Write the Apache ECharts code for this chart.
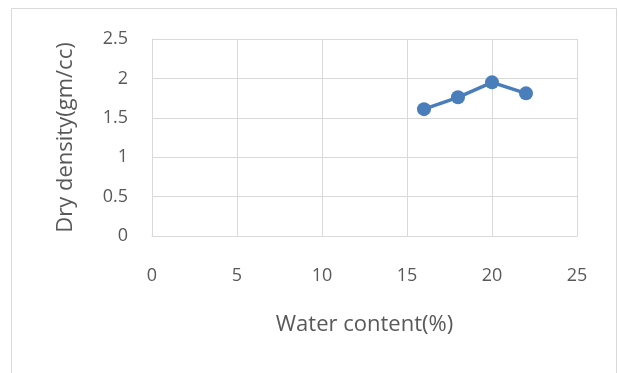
<!DOCTYPE html>
<html>
<head>
<meta charset="utf-8">
<script src="https://cdn.jsdelivr.net/npm/echarts@6/dist/echarts.min.js"></script>
<style>
html, body { margin: 0; padding: 0; background: #fff; }
#chart { width: 618px; height: 373px; }
</style>
</head>
<body>
<div id="chart"></div>
<script>
// Compaction test: dry density against water content
const waterContent = [16, 18, 20, 22];
const dryDensity = [1.61, 1.76, 1.95, 1.81];
const xTicks = [0, 5, 10, 15, 20, 25];
const yTicks = [0, 0.5, 1, 1.5, 2, 2.5];

const chart = echarts.init(document.getElementById('chart'));
const font = '"Open Sans", Lato, sans-serif';

chart.setOption({
  animation: false,
  backgroundColor: '#ffffff',
  graphic: [{
    type: 'rect',
    shape: { x: 11.5, y: 8.5, width: 605, height: 370 },
    style: { fill: 'none', stroke: '#d9d9d9', lineWidth: 1 }
  }],
  grid: { left: 152, right: 41, top: 39, bottom: 137 },
  xAxis: {
    type: 'value',
    min: xTicks[0],
    max: xTicks[xTicks.length - 1],
    interval: 5,
    name: 'Water content(%)',
    nameLocation: 'middle',
    nameGap: 78,
    nameTextStyle: { color: '#595959', fontSize: 22, fontFamily: font },
    axisLine: { show: true, lineStyle: { color: '#d9d9d9', width: 1 } },
    axisTick: { show: false },
    axisLabel: { color: '#595959', fontSize: 18, fontFamily: font, margin: 31 },
    splitLine: { show: true, lineStyle: { color: '#d9d9d9', width: 1 } }
  },
  yAxis: {
    type: 'value',
    min: yTicks[0],
    max: yTicks[yTicks.length - 1],
    interval: 0.5,
    name: 'Dry density(gm/cc)',
    nameLocation: 'middle',
    nameGap: 75,
    nameTextStyle: { color: '#595959', fontSize: 22, fontFamily: font },
    axisLine: { show: true, lineStyle: { color: '#d9d9d9', width: 1 } },
    axisTick: { show: false },
    axisLabel: { color: '#595959', fontSize: 18, fontFamily: font, margin: 24 },
    splitLine: { show: true, lineStyle: { color: '#d9d9d9', width: 1 } }
  },
  series: [{
    type: 'line',
    data: waterContent.map((x, i) => [x, dryDensity[i]]),
    symbol: 'circle',
    symbolSize: 14,
    lineStyle: { color: '#4a7ebb', width: 3.5 },
    itemStyle: { color: '#4a7ebb' }
  }]
});
</script>
</body>
</html>
